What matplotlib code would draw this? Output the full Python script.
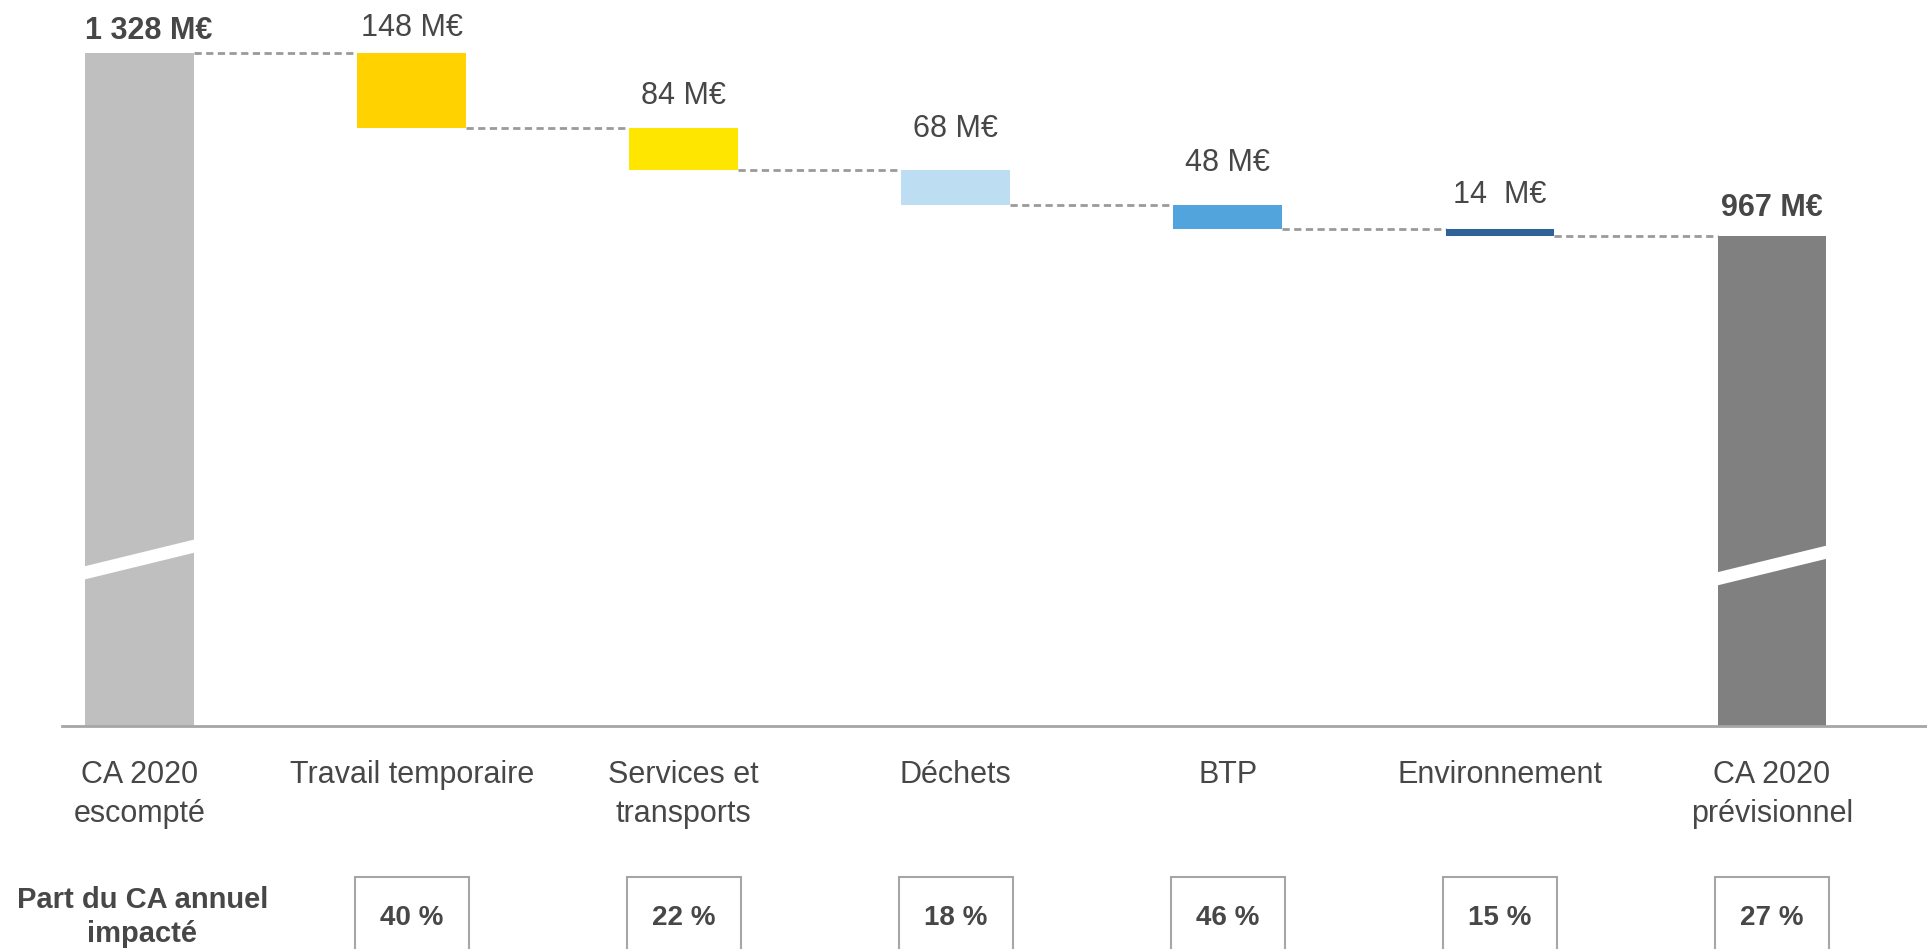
import matplotlib.pyplot as plt
import matplotlib.transforms as mtransforms
from matplotlib.patches import Rectangle, Polygon

plt.rcParams['font.family'] = ['Liberation Sans', 'DejaVu Sans']

categories = ["CA 2020\nescompté", "Travail temporaire", "Services et\ntransports",
              "Déchets", "BTP", "Environnement", "CA 2020\nprévisionnel"]
start_total = 1328
drops = [148, 84, 68, 48, 14]
end_total = 967
value_labels = ["1 328 M€", "148 M€", "84 M€", "68 M€", "48 M€", "14  M€", "967 M€"]
shares = ["40 %", "22 %", "18 %", "46 %", "15 %", "27 %"]

colors = ["#bfbfbf", "#ffd200", "#ffe600", "#bddef2", "#52a5dc", "#2f6398", "#808080"]
text_col = "#474747"
line_col = "#a6a6a6"
label_lift = [10, 12, 17, 24, 24, 19, 14]   # points above bar top

fig = plt.figure(figsize=(19.27, 9.49), dpi=100)
ax = fig.add_axes([0.032, 0.235, 0.968, 0.748])

# waterfall geometry
bottoms, heights = [0], [start_total]
level = start_total
for d in drops:
    level -= d
    bottoms.append(level)
    heights.append(d)
bottoms.append(0)
heights.append(end_total)
tops = [b + h for b, h in zip(bottoms, heights)]

x = list(range(len(categories)))
w = 0.4
ax.bar(x, heights, bottom=bottoms, width=w, color=colors, zorder=2)

# dashed connectors
conn = [start_total]
lv = start_total
for d in drops:
    lv -= d
    conn.append(lv)
for i in range(len(categories) - 1):
    ax.plot([i + w / 2, i + 1 - w / 2], [conn[i], conn[i]], color="#9a9a9a",
            lw=2, ls=(0, (2.6, 1.6)), zorder=1)

# axis break marks on the total bars
for i, yc in zip([0, len(categories) - 1], [301, 289]):
    xl, xr = i - w / 2 - 0.01, i + w / 2 + 0.01
    ax.add_patch(Polygon([(xl, yc - 13), (xr, yc + 42), (xr, yc + 68), (xl, yc + 13)],
                         closed=True, facecolor="white", edgecolor="none", zorder=3))

# value labels
for i, (t, lab) in enumerate(zip(tops, value_labels)):
    bold = i in (0, len(categories) - 1)
    xx = i - w / 2 if i == 0 else i
    ax.annotate(lab, (xx, t), xytext=(0, label_lift[i]), textcoords="offset points",
                ha="left" if i == 0 else "center", va="baseline", fontsize=22,
                fontweight="bold" if bold else "normal", color=text_col)

ax.set_xlim(-0.287, 6.57)
ax.set_ylim(0, 1400)
for s in ["top", "right", "left"]:
    ax.spines[s].set_visible(False)
ax.spines["bottom"].set_color(line_col)
ax.spines["bottom"].set_linewidth(2)
ax.set_xticks([])
ax.set_yticks([])

trans = mtransforms.blended_transform_factory(ax.transData, fig.transFigure)
H = 949.0
for i, c in enumerate(categories):
    ax.text(i, 1 - 760 / H, c, transform=trans, ha="center", va="top",
            fontsize=22, color=text_col, linespacing=1.37)

ax.text(0.01, 1 - 917 / H, "Part du CA annuel\nimpacté", transform=trans,
        ha="center", va="center", fontsize=21, fontweight="bold",
        color=text_col, linespacing=1.25)

bw = 0.42
for i, s in enumerate(shares, start=1):
    ax.add_patch(Rectangle((i - bw / 2, -0.05), bw, (1 - 877 / H) + 0.05,
                           transform=trans, facecolor="none", edgecolor=line_col,
                           lw=1.5, clip_on=False))
    ax.text(i, 1 - 918 / H, s, transform=trans, ha="center", va="center",
            fontsize=20, fontweight="bold", color=text_col)

fig.savefig("out.png", dpi=100)
